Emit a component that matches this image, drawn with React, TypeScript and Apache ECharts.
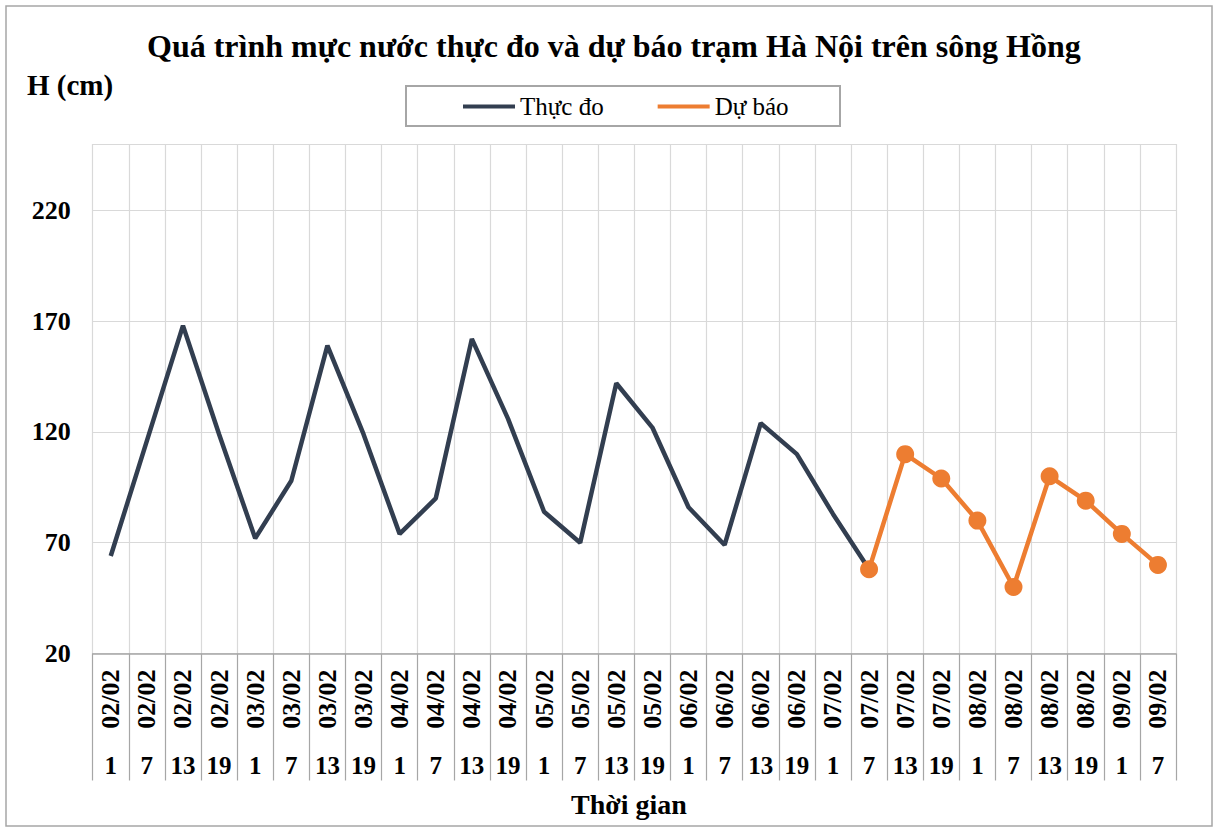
import React, { useEffect, useRef } from "react";
import * as echarts from "echarts";

const dates = [
  "02/02", "02/02", "02/02", "02/02",
  "03/02", "03/02", "03/02", "03/02",
  "04/02", "04/02", "04/02", "04/02",
  "05/02", "05/02", "05/02", "05/02",
  "06/02", "06/02", "06/02", "06/02",
  "07/02", "07/02", "07/02", "07/02",
  "08/02", "08/02", "08/02", "08/02",
  "09/02", "09/02",
];
const hours = [
  "1", "7", "13", "19", "1", "7", "13", "19", "1", "7", "13", "19",
  "1", "7", "13", "19", "1", "7", "13", "19", "1", "7", "13", "19",
  "1", "7", "13", "19", "1", "7",
];
// Thực đo (observed), from 02/02 1h to 07/02 7h
const observed = [
  64, 116, 168, 119, 72, 98, 159, 119, 74, 90, 162, 126,
  84, 70, 142, 122, 86, 69, 124, 110, 83, 58,
];
// Dự báo (forecast), from 07/02 7h to 09/02 7h
const forecast = [58, 110, 99, 80, 50, 100, 89, 74, 60];

const yTicks = { min: 20, max: 250, interval: 50 };

const FONT = "'Liberation Serif', 'Times New Roman', serif";

export default function App() {
  const ref = useRef<HTMLDivElement>(null);

  useEffect(() => {
    if (!ref.current) return;
    const chart = echarts.init(ref.current, null, { renderer: "svg" });
    const n = dates.length;
    const obsData = observed.concat(Array(n - observed.length).fill(null));
    const fcData = Array(n - forecast.length).fill(null).concat(forecast);

    chart.setOption({
      animation: false,
      backgroundColor: "#ffffff",
      title: {
        text: "Quá trình mực nước thực đo và dự báo trạm Hà Nội trên sông Hồng",
        left: 147,
        top: 30,
        padding: 0,
        textStyle: { fontFamily: FONT, fontSize: 32, fontWeight: "bold", color: "#000" },
      },
      legend: {
        left: 463,
        top: 94,
        padding: 0,
        itemGap: 54,
        itemWidth: 52,
        itemHeight: 4,
        textStyle: { fontFamily: FONT, fontSize: 25, color: "#000" },
        data: [
          { name: "Thực đo", icon: "rect", itemStyle: { color: "#323E50" } },
          { name: "Dự báo", icon: "rect", itemStyle: { color: "#ED7D31" } },
        ],
      },
      graphic: [
        {
          type: "rect",
          shape: { x: 6, y: 6, width: 1206, height: 820 },
          style: { fill: "none", stroke: "#a6a6a6", lineWidth: 1.5 },
          silent: true,
        },
        {
          type: "rect",
          shape: { x: 406, y: 86, width: 434, height: 40 },
          style: { fill: "none", stroke: "#a6a6a6", lineWidth: 2 },
          silent: true,
        },
        {
          type: "text",
          left: 27,
          top: 70,
          style: { text: "H (cm)", fontFamily: FONT, fontSize: 29, fontWeight: "bold", fill: "#000" },
        },
        {
          type: "text",
          left: 571,
          top: 790,
          style: { text: "Thời gian", fontFamily: FONT, fontSize: 28, fontWeight: "bold", fill: "#000" },
        },
      ],
      grid: { left: 92.7, right: 38, top: 144, bottom: 174.5, containLabel: false },
      xAxis: [
        {
          type: "category",
          data: dates,
          boundaryGap: true,
          position: "bottom",
          axisLine: { show: true, lineStyle: { color: "#a6a6a6", width: 1.5 } },
          axisTick: { show: true, interval: 0, length: 127, lineStyle: { color: "#a6a6a6", width: 1.2 } },
          splitLine: { show: true, interval: 0, lineStyle: { color: "#d9d9d9", width: 1.2 } },
          axisLabel: {
            interval: 0,
            rotate: 90,
            margin: 16,
            fontFamily: FONT,
            fontSize: 26,
            fontWeight: "bold",
            color: "#000",
          },
        },
        {
          type: "category",
          data: hours,
          boundaryGap: true,
          position: "bottom",
          axisLine: { show: false },
          axisTick: { show: false },
          splitLine: { show: false },
          axisLabel: {
            interval: 0,
            margin: 99,
            fontFamily: FONT,
            fontSize: 25,
            fontWeight: "bold",
            color: "#000",
          },
        },
      ],
      yAxis: {
        type: "value",
        min: yTicks.min,
        max: yTicks.max,
        interval: yTicks.interval,
        axisLine: { show: false },
        axisTick: { show: false },
        splitLine: { show: true, lineStyle: { color: "#d9d9d9", width: 1.2 } },
        axisLabel: {
          showMaxLabel: false,
          margin: 22,
          fontFamily: FONT,
          fontSize: 26,
          fontWeight: "bold",
          color: "#000",
        },
      },
      series: [
        {
          name: "Thực đo",
          type: "line",
          xAxisIndex: 0,
          data: obsData,
          showSymbol: false,
          symbol: "none",
          lineStyle: { color: "#323E50", width: 4.5 },
          itemStyle: { color: "#323E50" },
          z: 2,
        },
        {
          name: "Dự báo",
          type: "line",
          xAxisIndex: 0,
          data: fcData,
          symbol: "circle",
          symbolSize: 18,
          showSymbol: true,
          lineStyle: { color: "#ED7D31", width: 4.5 },
          itemStyle: { color: "#ED7D31" },
          z: 3,
        },
      ],
    });

    return () => chart.dispose();
  }, []);

  return (
    <div
      ref={ref}
      style={{ position: "fixed", left: 0, top: 0, width: 1214, height: 828 }}
    />
  );
}
